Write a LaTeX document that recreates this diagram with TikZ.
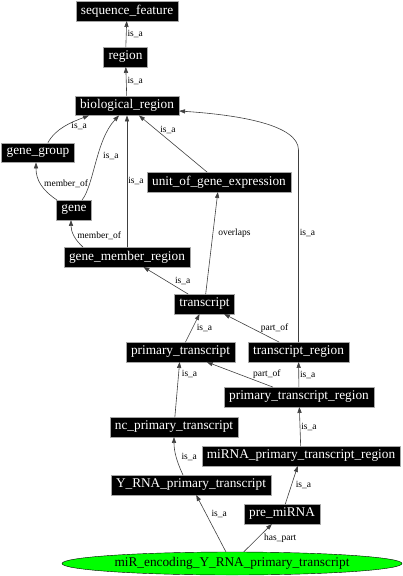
\documentclass[tikz,border=0pt]{standalone}
\usepackage{fontspec}
\setmainfont{Liberation Serif}
\usetikzlibrary{arrows.meta,shapes.geometric}

\begin{document}
\begin{tikzpicture}[x=1pt, y=-1pt, line cap=round, line join=round,
    term/.style={draw=gray!70, fill=black, text=white, inner xsep=5pt, inner ysep=0pt,
        minimum height=19.5pt, font=\fontsize{13.3}{15}\selectfont},
    rel/.style={draw=black!75, line width=0.6pt, -{Triangle[length=6pt,width=4.2pt]}},
    lbl/.style={font=\fontsize{9.5}{11}\selectfont, inner sep=1pt}]

    % 画布范围
    \useasboundingbox (0,0) rectangle (403,576);

    % 术语节点
    \node[term] (sf) at (127,11) {sequence\_feature};
    \node[term] (region) at (125.5,57) {region};
    \node[term] (bio) at (127,105.5) {biological\_region};
    \node[term] (gg) at (38,152.5) {gene\_group};
    \node[term] (uoge) at (219,182) {unit\_of\_gene\_expression};
    \node[term] (gene) at (74,210) {gene};
    \node[term] (gmr) at (127,257) {gene\_member\_region};
    \node[term] (tr) at (204.5,304) {transcript};
    \node[term] (pt) at (180.5,352) {primary\_transcript};
    \node[term] (trr) at (298.5,352) {transcript\_region};
    \node[term] (ptr) at (299,397) {primary\_transcript\_region};
    \node[term] (ncpt) at (174,427) {nc\_primary\_transcript};
    \node[term] (mptr) at (301,456) {miRNA\_primary\_transcript\_region};
    \node[term] (ypt) at (191,485) {Y\_RNA\_primary\_transcript};
    \node[term] (pre) at (282,514) {pre\_miRNA};

    % 查询的术语（绿色椭圆）
    \node[ellipse, draw=black, fill=green, inner sep=0pt, minimum width=340pt,
        minimum height=23pt, font=\fontsize{13.3}{15}\selectfont]
        (mir) at (232,563.5) {miR\_encoding\_Y\_RNA\_primary\_transcript};

    % 上层 is_a
    \draw[rel] (region) -- node[lbl, right] {is\_a} (sf);
    \draw[rel] (bio) -- node[lbl, right] {is\_a} (region);
    \draw[rel] ([xshift=10pt]gg.north) .. controls (56,128) and (72,122) ..
        ([xshift=-38pt]bio.south) node[lbl, pos=0.5, right=5pt] {is\_a};
    \draw[rel] ([xshift=8pt]gene.north) .. controls (94,185) and (96,140) ..
        ([xshift=-8pt]bio.south) node[lbl, pos=0.55, right=4pt] {is\_a};
    \draw[rel] (gmr) -- node[lbl, right] {is\_a} (bio);
    \draw[rel] (uoge) -- node[lbl, pos=0.75, right=3pt] {is\_a} (bio);
    \draw[rel] (trr.north) -- node[lbl, pos=0.57, right] {is\_a} ++(0,-192)
        .. controls (298.5,125) and (240,115) .. ([yshift=-5.5pt]bio.east);

    % member_of
    \draw[rel] ([xshift=-17pt]gene.north) .. controls (42,190) and (36,180) ..
        ([xshift=-2pt]gg.south) node[lbl, pos=0.5, right=2pt] {member\_of};
    \draw[rel] ([xshift=-44pt]gmr.north) .. controls (75,240) and (71,232) ..
        ([xshift=-3pt]gene.south) node[lbl, pos=0.5, right=2pt] {member\_of};

    % 转录本一层
    \draw[rel] (tr) -- node[lbl, pos=0.6, right=4pt] {overlaps} (uoge);
    \draw[rel] (tr) -- node[lbl, right=8pt] {is\_a} (gmr);
    \draw[rel] (pt) -- node[lbl, right=3pt] {is\_a} (tr);
    \draw[rel] (trr) -- node[lbl, right=8pt] {part\_of} (tr);
    \draw[rel] (ptr) -- node[lbl, right=12pt] {part\_of} (pt);
    \draw[rel] (ptr) -- node[lbl, right] {is\_a} (trr);
    \draw[rel] (ncpt) -- node[lbl, pos=0.78, right=2pt] {is\_a} (pt);
    \draw[rel] (mptr) -- node[lbl, right] {is\_a} (ptr);

    % 下层
    \draw[rel] ([xshift=-8pt]ypt.north) .. controls (177,462) and (174,452) ..
        (ncpt.south) node[lbl, pos=0.5, right=4pt] {is\_a};
    \draw[rel] (pre) -- node[lbl, right=3pt] {is\_a} (mptr);
    \draw[rel] (mir) -- node[lbl, pos=0.66, right=4pt] {is\_a} (ypt);
    \draw[rel] (mir) -- node[lbl, right=5pt] {has\_part} (pre);
\end{tikzpicture}
\end{document}
